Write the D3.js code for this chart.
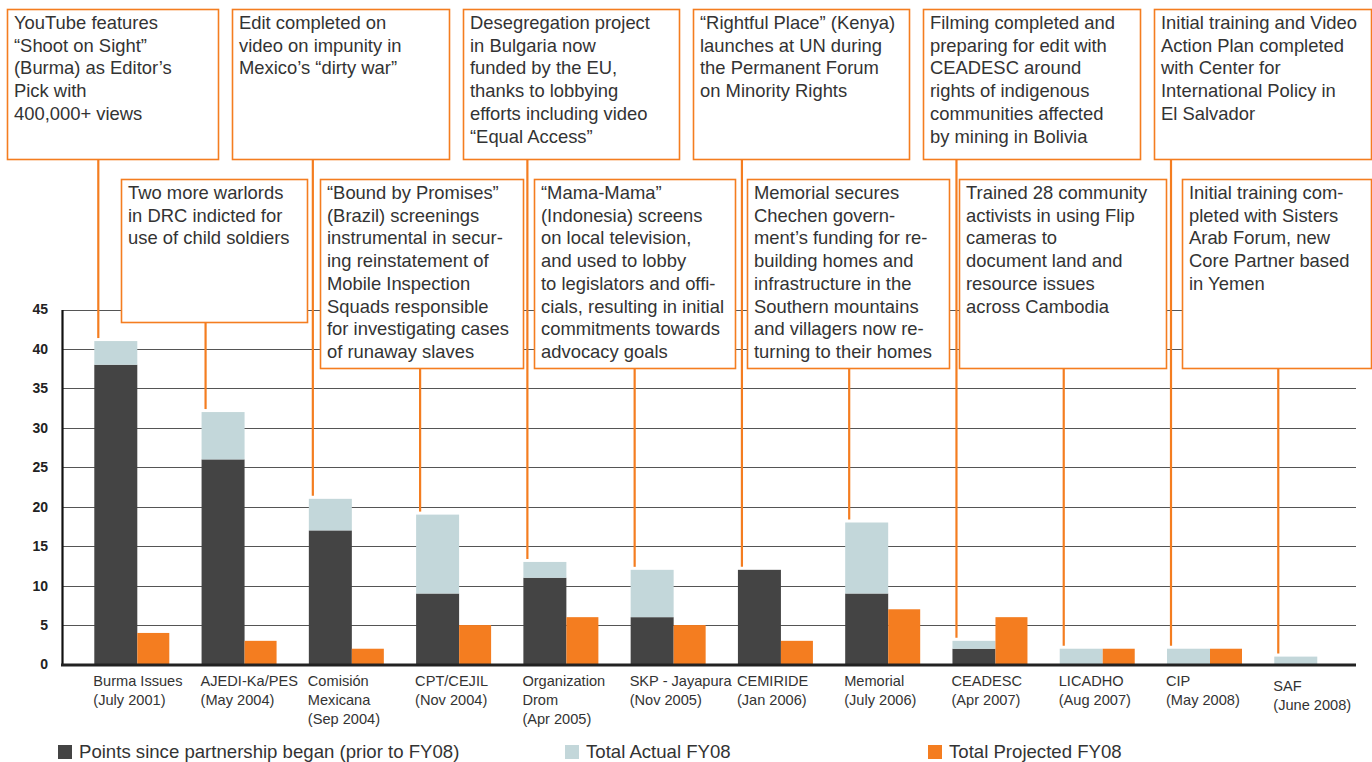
<!DOCTYPE html>
<html>
<head>
<meta charset="utf-8">
<script src="https://cdn.jsdelivr.net/npm/d3@7"></script>
<style>
  body { margin: 0; background: #fff; }
  text { font-family: "Liberation Sans", Arial, Helvetica, sans-serif; }
</style>
</head>
<body>
<div id="chart"></div>
<script>
// partners, with the date the partnership began
var partners = ["Burma Issues", "AJEDI-Ka/PES", "Comisión Mexicana", "CPT/CEJIL", "Organization Drom",
  "SKP - Jayapura", "CEMIRIDE", "Memorial", "CEADESC", "LICADHO", "CIP", "SAF"];
var partnerLabels = [
  ["Burma Issues", "(July 2001)"],
  ["AJEDI-Ka/PES", "(May 2004)"],
  ["Comisión", "Mexicana", "(Sep 2004)"],
  ["CPT/CEJIL", "(Nov 2004)"],
  ["Organization", "Drom", "(Apr 2005)"],
  ["SKP - Jayapura", "(Nov 2005)"],
  ["CEMIRIDE", "(Jan 2006)"],
  ["Memorial", "(July 2006)"],
  ["CEADESC", "(Apr 2007)"],
  ["LICADHO", "(Aug 2007)"],
  ["CIP", "(May 2008)"],
  ["SAF", "(June 2008)"]
];

// points
var priorPoints   = [38, 26, 17, 9, 11, 6, 12, 9, 2, 0, 0, 0];
var actualFY08    = [3, 6, 4, 10, 2, 6, 0, 9, 1, 2, 2, 1];
var projectedFY08 = [4, 3, 2, 5, 6, 5, 3, 7, 6, 2, 2, 0];

var yTicks = [0, 5, 10, 15, 20, 25, 30, 35, 40, 45];
var seriesNames = ["Points since partnership began (prior to FY08)", "Total Actual FY08", "Total Projected FY08"];

// annotations (index of the partner they point at + text lines)
var topNotes = [
  {target: 0, lines: ["YouTube features", "\u201CShoot on Sight\u201D", "(Burma) as Editor\u2019s", "Pick with", "400,000+ views"]},
  {target: 2, lines: ["Edit completed on", "video on impunity in", "Mexico\u2019s \u201Cdirty war\u201D"]},
  {target: 4, lines: ["Desegregation project", "in Bulgaria now", "funded by the EU,", "thanks to lobbying", "efforts including video", "\u201CEqual Access\u201D"]},
  {target: 6, lines: ["\u201CRightful Place\u201D (Kenya)", "launches at UN during", "the Permanent Forum", "on Minority Rights"]},
  {target: 8, lines: ["Filming completed and", "preparing for edit with", "CEADESC around", "rights of indigenous", "communities affected", "by mining in Bolivia"]},
  {target: 10, lines: ["Initial training and Video", "Action Plan completed", "with Center for", "International Policy in", "El Salvador"]}
];
var bottomNotes = [
  {target: 1, lines: ["Two more warlords", "in DRC indicted for", "use of child soldiers"]},
  {target: 3, lines: ["\u201CBound by Promises\u201D", "(Brazil) screenings", "instrumental in secur-", "ing reinstatement of", "Mobile Inspection", "Squads responsible", "for investigating cases", "of runaway slaves"]},
  {target: 5, lines: ["\u201CMama-Mama\u201D", "(Indonesia) screens", "on local television,", "and used to lobby", "to legislators and offi-", "cials, resulting in initial", "commitments towards", "advocacy goals"]},
  {target: 7, lines: ["Memorial secures", "Chechen govern-", "ment\u2019s funding for re-", "building homes and", "infrastructure in the", "Southern mountains", "and villagers now re-", "turning to their homes"]},
  {target: 9, lines: ["Trained 28 community", "activists in using Flip", "cameras to", "document land and", "resource issues", "across Cambodia"]},
  {target: 11, lines: ["Initial training com-", "pleted with Sisters", "Arab Forum, new", "Core Partner based", "in Yemen"]}
];

var W = 1372, H = 762;
var colors = ["#444444", "#c3d7da", "#f47d20"];
var noteColor = "#f47d20";

var svg = d3.select("#chart").append("svg")
  .attr("width", W).attr("height", H);

var axisLeftX = 62, axisRightX = 1356;
var y = d3.scaleLinear().domain([0, 45]).range([664.5, 309.5]);
var x = d3.scaleBand().domain(partners).range([94.3, 94.3 + 12 * 107.27]).padding(0);
var stackW = 43, projW = 32;

// gridlines
svg.append("g").selectAll("line")
  .data(yTicks.filter(function(d){ return d > 0; }))
  .enter().append("line")
    .attr("x1", axisLeftX).attr("x2", axisRightX)
    .attr("y1", function(d){ return Math.round(y(d)) + 0.5; })
    .attr("y2", function(d){ return Math.round(y(d)) + 0.5; })
    .attr("stroke", "#555").attr("stroke-width", 1.2);

// stacked bars (prior + actual)
var table = partners.map(function(p, i){
  return {partner: p, prior: priorPoints[i], actual: actualFY08[i], projected: projectedFY08[i]};
});
var stacked = d3.stack().keys(["prior", "actual"])(table);

svg.append("g").selectAll("g")
  .data(stacked)
  .enter().append("g")
    .attr("fill", function(d, i){ return colors[i]; })
  .selectAll("rect")
  .data(function(d){ return d; })
  .enter().append("rect")
    .attr("x", function(d){ return x(d.data.partner); })
    .attr("width", stackW)
    .attr("y", function(d){ return y(d[1]); })
    .attr("height", function(d){ return y(d[0]) - y(d[1]); });

// projected bars
svg.append("g").selectAll("rect")
  .data(table)
  .enter().append("rect")
    .attr("x", function(d){ return x(d.partner) + stackW; })
    .attr("width", projW)
    .attr("y", function(d){ return y(d.projected); })
    .attr("height", function(d){ return y(0) - y(d.projected); })
    .attr("fill", colors[2]);

// axes
var yAxis = svg.append("g")
  .attr("transform", "translate(" + axisLeftX + ",0)")
  .call(d3.axisLeft(y).tickValues(yTicks).tickSize(0).tickPadding(14));
yAxis.select(".domain").attr("stroke", "#111").attr("stroke-width", 2.2);
yAxis.selectAll("text")
  .style("font-family", "'Liberation Sans', Arial, sans-serif")
  .style("font-size", "14px").style("font-weight", "bold").attr("fill", "#222");

svg.append("line")
  .attr("x1", axisLeftX - 1).attr("x2", axisRightX)
  .attr("y1", y(0) + 0.5).attr("y2", y(0) + 0.5)
  .attr("stroke", "#222").attr("stroke-width", 3);

// x labels
svg.append("g").selectAll("text")
  .data(partners)
  .enter().append("text")
    .attr("x", function(d){ return x(d) - 1; })
    .attr("y", function(d, i){ return i == 11 ? 691 : 686; })
    .attr("fill", "#333")
    .style("font-size", "14.6px")
  .selectAll("tspan")
  .data(function(d, i){ return partnerLabels[i]; })
  .enter().append("tspan")
    .attr("x", function(){ return +d3.select(this.parentNode).attr("x"); })
    .attr("dy", function(d, i){ return i == 0 ? 0 : 19; })
    .text(function(d){ return d; });

// annotation boxes
var topBoxes = [
  {x: 7, y: 9, w: 211, h: 150},
  {x: 232, y: 9, w: 217, h: 150},
  {x: 463, y: 9, w: 216, h: 150},
  {x: 693, y: 9, w: 216, h: 150},
  {x: 923, y: 9, w: 217, h: 150},
  {x: 1154, y: 9, w: 217, h: 150}
];
var bottomBoxes = [
  {x: 121, y: 179, w: 186, h: 143},
  {x: 320, y: 179, w: 203, h: 189},
  {x: 534, y: 179, w: 201, h: 189},
  {x: 747, y: 179, w: 202, h: 189},
  {x: 959, y: 179, w: 207, h: 189},
  {x: 1182, y: 179, w: 189, h: 189}
];

function drawNotes(notes, boxes) {
  var g = svg.append("g");
  notes.forEach(function(n, k){
    var b = boxes[k];
    var lx = x(partners[n.target]) + 4;
    var total = priorPoints[n.target] + actualFY08[n.target];
    g.append("line")
      .attr("x1", lx).attr("x2", lx)
      .attr("y1", b.y + b.h).attr("y2", y(total) - 3)
      .attr("stroke", noteColor).attr("stroke-width", 2.2);
    g.append("rect")
      .attr("x", b.x + 0.5).attr("y", b.y + 0.5)
      .attr("width", b.w).attr("height", b.h)
      .attr("fill", "#fff")
      .attr("stroke", noteColor).attr("stroke-width", 1.6);
    g.append("text")
      .attr("x", b.x + 7).attr("y", b.y + 20)
      .attr("fill", "#333")
      .style("font-size", "18.4px")
      .selectAll("tspan")
      .data(n.lines)
      .enter().append("tspan")
        .attr("x", b.x + 7)
        .attr("dy", function(d, i){ return i == 0 ? 0 : 22.7; })
        .text(function(d){ return d; });
  });
}
drawNotes(topNotes, topBoxes);
drawNotes(bottomNotes, bottomBoxes);

// legend
var legendX = [58, 565, 928];
var legend = svg.append("g").selectAll("g")
  .data(seriesNames)
  .enter().append("g")
    .attr("transform", function(d, i){ return "translate(" + legendX[i] + ",745)"; });
legend.append("rect")
  .attr("width", 14).attr("height", 14)
  .attr("fill", function(d, i){ return colors[i]; });
legend.append("text")
  .attr("x", 21).attr("y", 13)
  .attr("fill", "#333")
  .style("font-size", "18.6px")
  .text(function(d){ return d; });
</script>
</body>
</html>
